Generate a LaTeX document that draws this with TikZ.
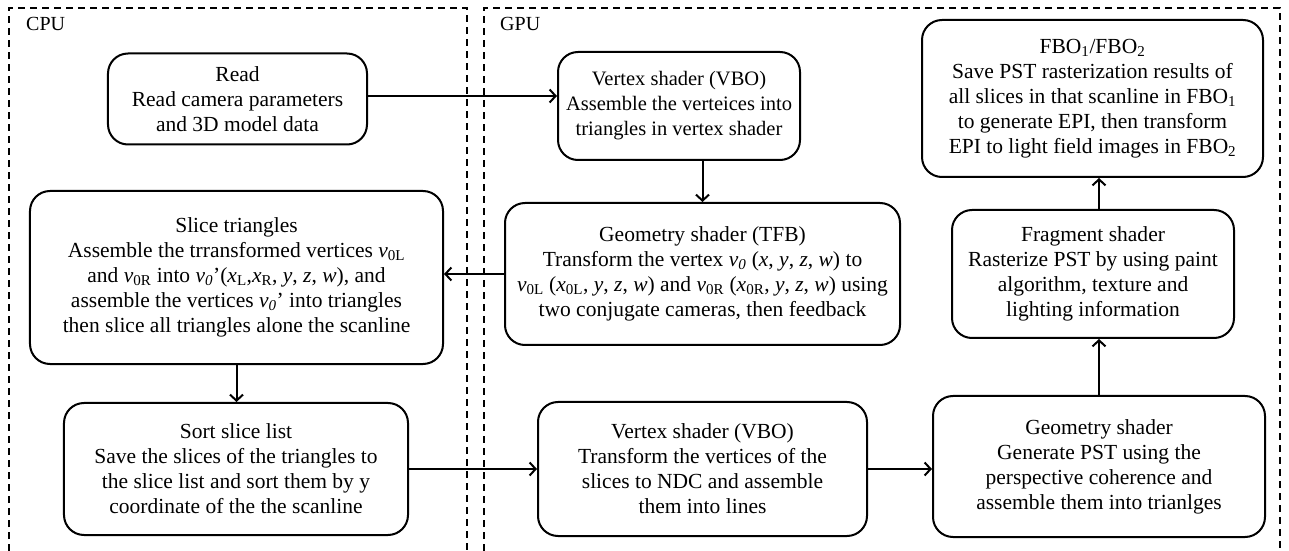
\documentclass[tikz,border=0pt]{standalone}
\usepackage{fontspec}
\setmainfont{Liberation Serif}
\usetikzlibrary{arrows.meta}
\newcommand{\iv}{\textit{v}}
\newcommand{\sub}[1]{\textsubscript{#1}}
\tikzset{
  flowbox/.style={draw, line width=2bp, rounded corners=20bp, align=center,
    inner sep=0pt, font=\fontsize{21.5bp}{25bp}\selectfont},
  flowarrow/.style={line width=2bp, -{Straight Barb[length=6bp, width=13bp, line width=2bp]}},
  region/.style={line width=1.5bp, dash pattern=on 7bp off 5bp},
  regionlabel/.style={anchor=west, inner sep=0pt, font=\fontsize{20bp}{24bp}\selectfont}
}
\begin{document}
\begin{tikzpicture}[x=1bp, y=-1bp]
\useasboundingbox (0,0) rectangle (1289,551);
\fill[white] (0,0) rectangle (1289,551);

% processing domains
\draw[region] (9,551) -- (9,8) -- (467,8) -- (467,551);
\draw[region] (484,551) -- (484,8) -- (1280,8) -- (1280,551);
\node[regionlabel] (cpu) at (26,24) {CPU};
\node[regionlabel] (gpu) at (500,24) {GPU};

% CPU stages
\node[flowbox, minimum width=259bp, minimum height=91bp] (read) at (237.5,99)
  {Read\\Read camera parameters\\and 3D model data};
\node[flowbox, minimum width=413bp, minimum height=173bp] (slice) at (236.5,277.5)
  {Slice triangles\\
   Assemble the trransformed vertices \iv\sub{0L}\\
   and \iv\sub{0R} into \iv\sub{\textit{0}}'(\textit{x}\sub{L},\textit{x}\sub{R}, \textit{y}, \textit{z}, \textit{w}), and\\
   assemble the vertices \iv\sub{\textit{0}}’ into triangles\\
   then slice all triangles alone the scanline};
\node[flowbox, minimum width=344bp, minimum height=132bp] (sort) at (236,469)
  {Sort slice list\\Save the slices of the triangles to\\the slice list and sort them by y\\coordinate of the the scanline};

% GPU stages
\node[flowbox, minimum width=242bp, minimum height=108bp,
      font=\fontsize{20.5bp}{25bp}\selectfont] (vtop) at (679,106)
  {Vertex shader (VBO)\\Assemble the verteices into\\triangles in vertex shader};
\node[flowbox, minimum width=395bp, minimum height=142bp] (tfb) at (702.5,274)
  {Geometry shader (TFB)\\
   Transform the vertex \iv\sub{\textit{0}} (\textit{x}, \textit{y}, \textit{z}, \textit{w}) to\\
   \iv\sub{0L} (\textit{x}\sub{0L}, \textit{y}, \textit{z}, \textit{w}) and \iv\sub{0R} (\textit{x}\sub{0R}, \textit{y}, \textit{z}, \textit{w}) using\\
   two conjugate cameras, then feedback};
\node[flowbox, minimum width=329bp, minimum height=134bp] (vbot) at (702.5,469)
  {Vertex shader (VBO)\\Transform the vertices of the\\slices to NDC and assemble\\them into lines};
\node[flowbox, minimum width=341bp, minimum height=157bp] (fbo) at (1092.5,98.5)
  {FBO\sub{1}/FBO\sub{2}\\Save PST rasterization results of\\all slices in that scanline in FBO\sub{1}\\to generate EPI, then transform\\EPI to light field images in FBO\sub{2}};
\node[flowbox, minimum width=282bp, minimum height=128bp] (frag) at (1093,274)
  {Fragment shader\\Rasterize PST by using paint\\algorithm, texture and\\lighting information};
\node[flowbox, minimum width=332bp, minimum height=141bp] (geom) at (1099,466.5)
  {Geometry shader\\Generate PST using the\\perspective coherence and\\assemble them into trianlges};

% data flow
\draw[flowarrow] ([yshift=3bp]read.east) -- ([yshift=3bp]read.east -| vtop.west);
\draw[flowarrow] (vtop.south -| tfb.north) -- (tfb.north);
\draw[flowarrow] (tfb.west) -- (tfb.west -| slice.east);
\draw[flowarrow] (slice.south) -- (slice.south |- sort.north);
\draw[flowarrow] (sort.east) -- (sort.east -| vbot.west);
\draw[flowarrow] (vbot.east) -- (vbot.east -| geom.west);
\draw[flowarrow] (geom.north) -- (geom.north |- frag.south);
\draw[flowarrow] (frag.north -| geom.north) -- (fbo.south -| geom.north);
\end{tikzpicture}
\end{document}
